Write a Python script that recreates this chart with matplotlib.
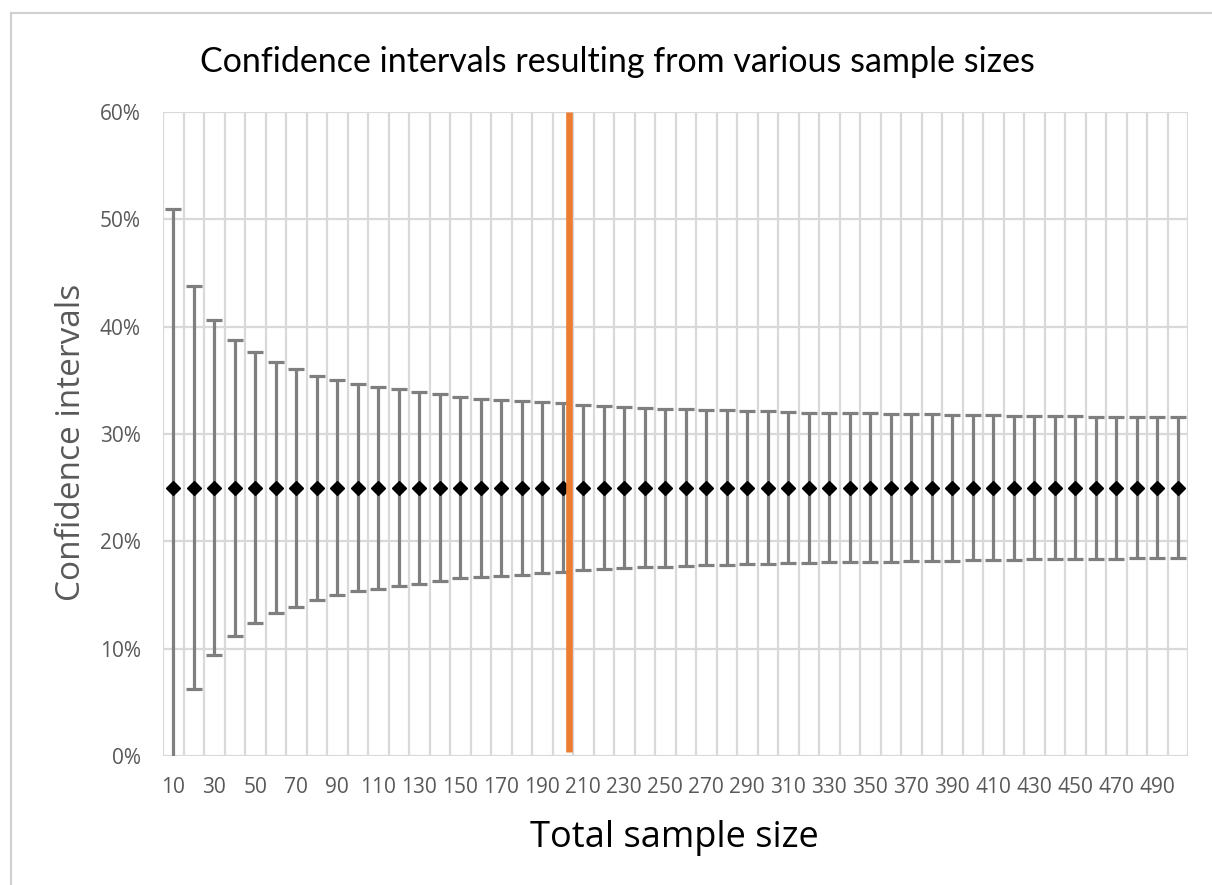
import numpy as np
import matplotlib
matplotlib.use("Agg")
import matplotlib.pyplot as plt
from matplotlib.lines import Line2D

# sample sizes 10..500 and the read-off interval data (percent)
sample_sizes = [10, 20, 30, 40, 50, 60, 70, 80, 90, 100,
                110, 120, 130, 140, 150, 160, 170, 180, 190, 200,
                210, 220, 230, 240, 250, 260, 270, 280, 290, 300,
                310, 320, 330, 340, 350, 360, 370, 380, 390, 400,
                410, 420, 430, 440, 450, 460, 470, 480, 490, 500]
mean_pct = [25.0] * 50
half_width = [26.0, 18.8, 15.6, 13.8, 12.6, 11.7, 11.1, 10.45, 10.0, 9.65,
              9.4, 9.2, 8.95, 8.7, 8.45, 8.3, 8.2, 8.1, 7.98, 7.88,
              7.7, 7.58, 7.5, 7.42, 7.36, 7.3, 7.25, 7.2, 7.13, 7.1,
              7.03, 7.0, 6.97, 6.94, 6.91, 6.88, 6.85, 6.82, 6.79, 6.76,
              6.73, 6.71, 6.69, 6.67, 6.65, 6.63, 6.61, 6.59, 6.57, 6.55]
cutoff_n = 203
y_ticks = [0, 10, 20, 30, 40, 50, 60]

TICK_GRAY = "#595959"
GRID = "#d9d9d9"

fig = plt.figure(figsize=(12.12, 8.85), dpi=100)
ax = fig.add_axes([163 / 1212, 1 - 756 / 885, (1188 - 163) / 1212, (756 - 112) / 885])

x = np.arange(len(sample_sizes))
ax.errorbar(x, mean_pct, yerr=half_width, fmt="none", ecolor="#7f7f7f",
            elinewidth=2.3, capsize=5.5, capthick=2.3, zorder=3)
ax.plot(x, mean_pct, "D", color="black", ms=7.5, zorder=4)

# orange marker line for the chosen sample size
cx = (cutoff_n - sample_sizes[0]) / 10
ax.plot([cx, cx], [0.4, 60], color="#ED7D31", lw=4.8, solid_capstyle="butt", zorder=5)

ax.set_xlim(-0.5, len(sample_sizes) - 0.5)
ax.set_ylim(0, 60)
ax.set_xticks(x[::2])
ax.set_xticklabels([str(s) for s in sample_sizes[::2]])
ax.set_xticks(np.arange(-0.5, len(sample_sizes), 1), minor=True)
ax.set_yticks(y_ticks)
ax.set_yticklabels([f"{v}%" for v in y_ticks])
ax.grid(which="minor", axis="x", color=GRID, lw=1.6, zorder=0)
ax.grid(which="major", axis="y", color=GRID, lw=1.6, zorder=0)
ax.set_axisbelow(True)
for s in ax.spines.values():
    s.set_visible(False)
ax.tick_params(which="both", length=0)
ax.tick_params(axis="x", pad=15, labelsize=15, labelcolor=TICK_GRAY)
ax.tick_params(axis="y", pad=16, labelsize=15, labelcolor=TICK_GRAY)
for lab in ax.get_xticklabels() + ax.get_yticklabels():
    lab.set_fontfamily("Open Sans")

fig.text(617 / 1212, 1 - 62 / 885, "Confidence intervals resulting from various sample sizes",
         ha="center", va="center", fontsize=24.5, family="Lato", color="black")
fig.text(674 / 1212, 1 - 838 / 885, "Total sample size", ha="center", va="center",
         fontsize=26, family="Open Sans", color="black")
fig.text(72 / 1212, 1 - 442 / 885, "Confidence intervals", ha="center", va="center",
         rotation=90, fontsize=24, family="Open Sans", color=TICK_GRAY)

# light frame around the chart (top and left edges visible)
fig.add_artist(Line2D([11 / 1212, 1], [1 - 13 / 885, 1 - 13 / 885], color="#d0d0d0", lw=1.5))
fig.add_artist(Line2D([11 / 1212, 11 / 1212], [0, 1 - 13 / 885], color="#d0d0d0", lw=1.5))

fig.savefig("out.png", dpi=100)
